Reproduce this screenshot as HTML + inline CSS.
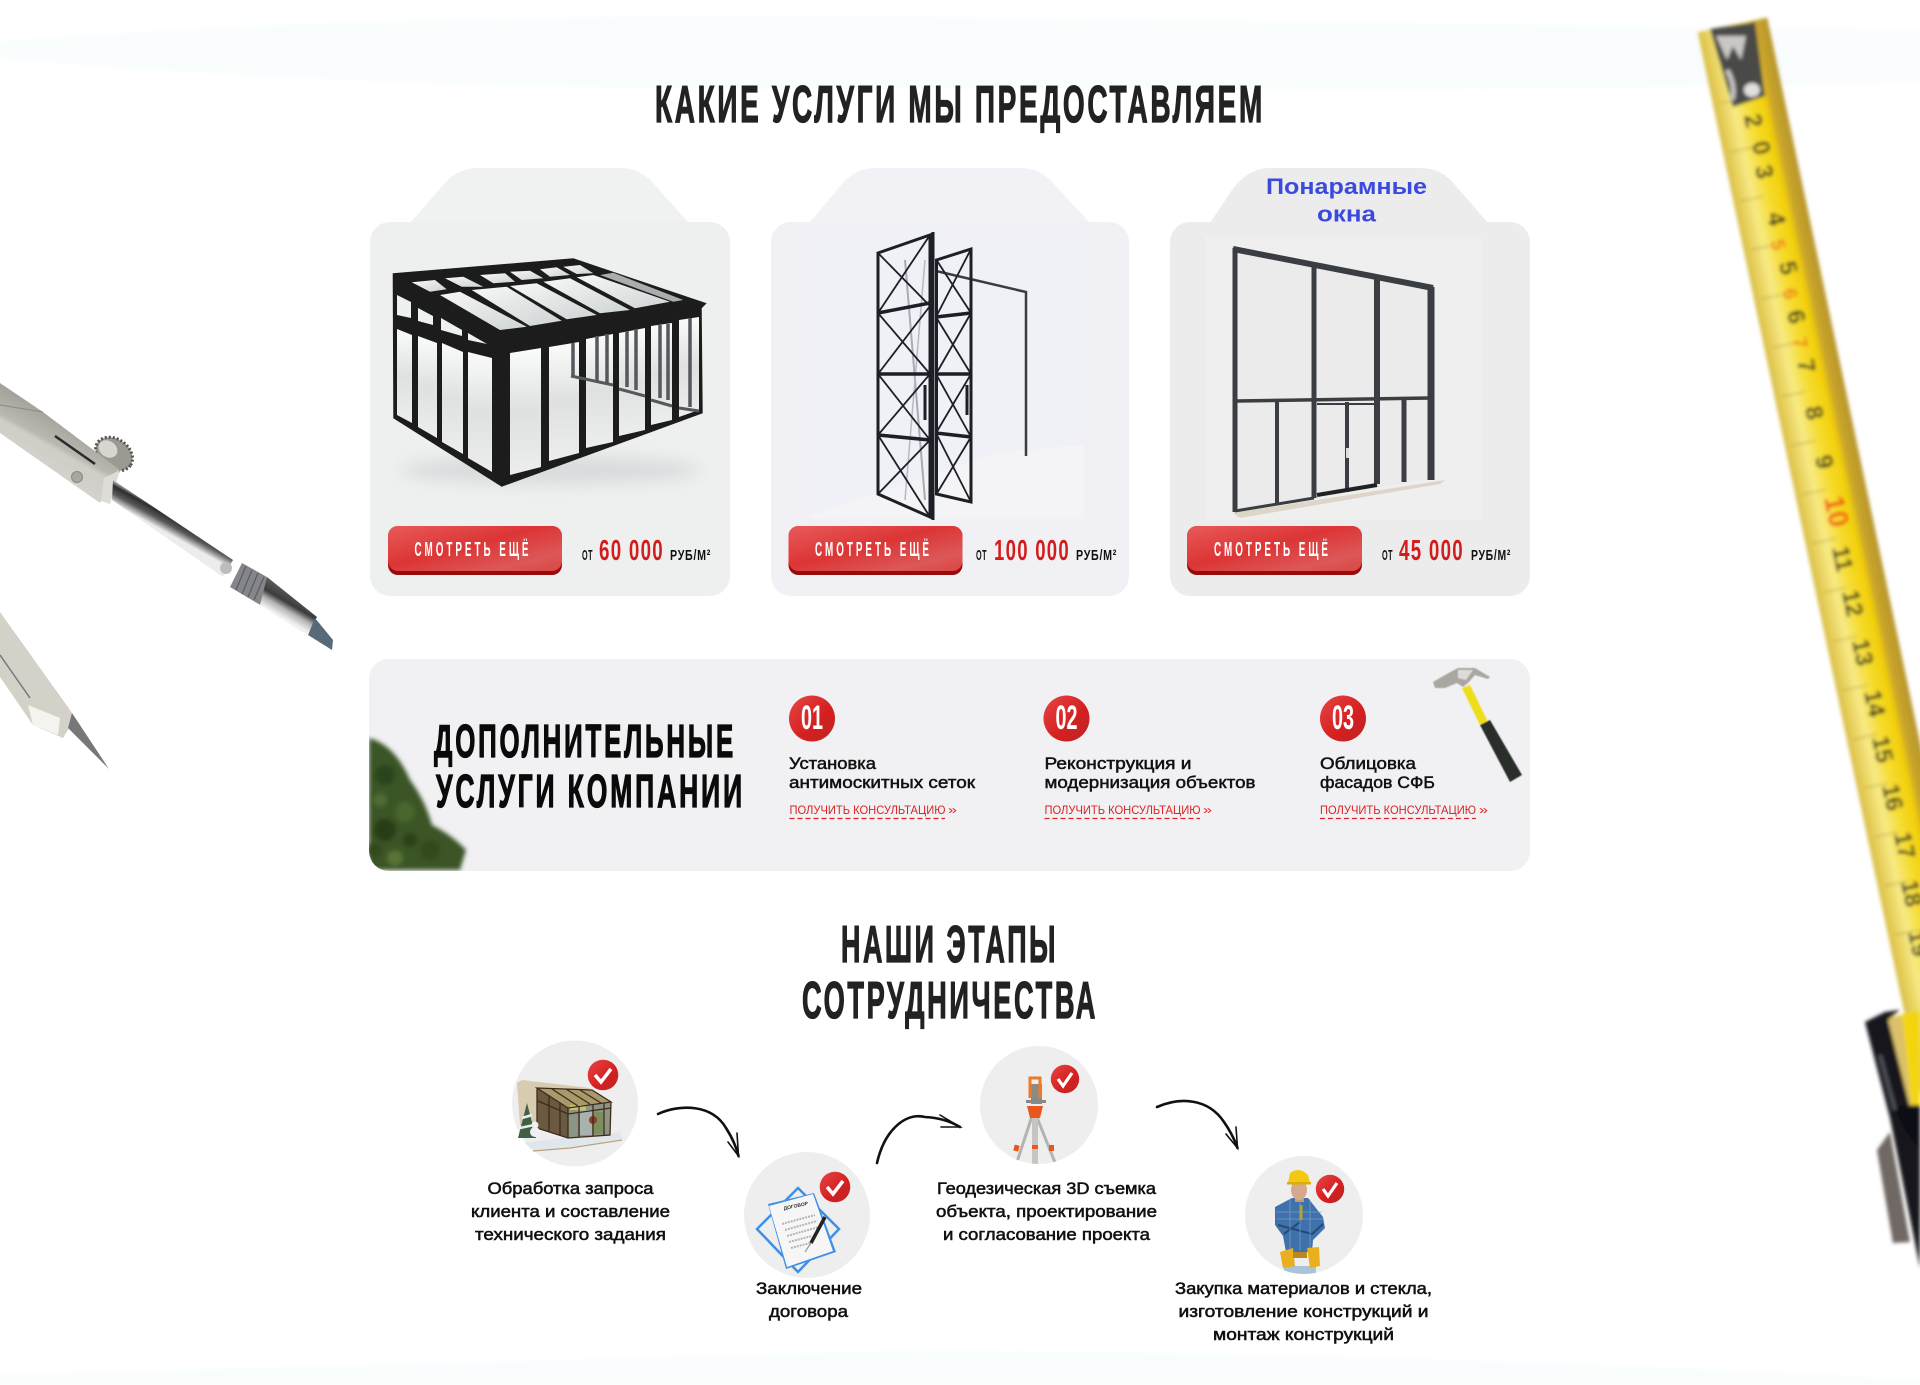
<!DOCTYPE html>
<html lang="ru"><head><meta charset="utf-8"><title>Услуги</title>
<style>
html,body{margin:0;padding:0;background:#fff;width:1920px;height:1385px;overflow:hidden}
svg{display:block;position:absolute;left:0;top:0}
text{font-family:"Liberation Sans","DejaVu Sans",sans-serif}
.h{font-weight:700;fill:#222;stroke:#222;stroke-width:1.3;letter-spacing:5px}
.k{font-weight:700;fill:#0a0a0a;stroke:#0a0a0a;stroke-width:1.3;letter-spacing:5px}
.m{font-weight:400;fill:#111;stroke:#111;stroke-width:.5;font-size:17px}
.s{font-weight:400;fill:#111;stroke:#111;stroke-width:.55;font-size:17px}
.b{font-weight:700;fill:#fff;font-size:20px;letter-spacing:6px}
.o{font-weight:700;fill:#111;font-size:15px;letter-spacing:1px}
.p{font-weight:700;fill:#d41c1c;font-size:29px;letter-spacing:2px}
.l{font-weight:400;fill:#d92525;font-size:12px}
.n{font-weight:700;fill:#fff;font-size:34px}
.t{font-weight:700;fill:#2e2c22;font-size:24px}
.r{font-weight:700;fill:#ef7b18;font-size:19px}
</style></head><body>
<svg width="1920" height="1385" viewBox="0 0 1920 1385" xmlns="http://www.w3.org/2000/svg">
<defs>
<filter id="bl1" x="-20%" y="-5%" width="140%" height="110%"><feGaussianBlur stdDeviation="1.9"/></filter>
<filter id="bl2" x="-20%" y="-20%" width="140%" height="140%"><feGaussianBlur stdDeviation="2.2"/></filter>
<filter id="bl5" x="-30%" y="-60%" width="160%" height="220%"><feGaussianBlur stdDeviation="8"/></filter>
<filter id="bl05" x="-20%" y="-20%" width="140%" height="140%"><feGaussianBlur stdDeviation=".6"/></filter>
<filter id="bl03" x="-5%" y="-5%" width="110%" height="110%"><feGaussianBlur stdDeviation=".35"/></filter>
<linearGradient id="tape" x1="0" x2="1" y1="0" y2="0">
<stop offset="0" stop-color="#d9bf4a"/><stop offset=".08" stop-color="#e4cb55"/><stop offset=".28" stop-color="#f7ea85"/><stop offset=".5" stop-color="#f6dc30"/><stop offset=".72" stop-color="#f2cf0a"/><stop offset=".82" stop-color="#c9a52b"/><stop offset="1" stop-color="#b8962d"/>
</linearGradient>
<linearGradient id="btn" x1="0" x2="1" y1="0" y2="1">
<stop offset="0" stop-color="#e85a5a"/><stop offset=".45" stop-color="#dc3535"/><stop offset=".8" stop-color="#dc5858"/><stop offset="1" stop-color="#dc4444"/>
</linearGradient>
<linearGradient id="red" x1="0" x2="1" y1="0" y2="1">
<stop offset="0" stop-color="#e84545"/><stop offset=".6" stop-color="#d41f1f"/><stop offset="1" stop-color="#bd2626"/>
</linearGradient>
<linearGradient id="metal" gradientUnits="userSpaceOnUse" x1="60" y1="420" x2="35" y2="465">
<stop offset="0" stop-color="#a5a39b"/><stop offset=".45" stop-color="#b9b7af"/><stop offset=".55" stop-color="#cfcdc6"/><stop offset="1" stop-color="#d4d2cc"/>
</linearGradient>
<linearGradient id="shaft" gradientUnits="userSpaceOnUse" x1="177" y1="515" x2="167" y2="533">
<stop offset="0" stop-color="#cfcfcf"/><stop offset=".25" stop-color="#2c2c2c"/><stop offset=".6" stop-color="#5a5a5a"/><stop offset="1" stop-color="#ececec"/>
</linearGradient>
<linearGradient id="cone" gradientUnits="userSpaceOnUse" x1="294" y1="592" x2="280" y2="616">
<stop offset="0" stop-color="#5e5e5e"/><stop offset=".45" stop-color="#3c3c3c"/><stop offset=".7" stop-color="#b5b5b5"/><stop offset="1" stop-color="#f2f2f2"/>
</linearGradient>
<linearGradient id="gw" x1="0" x2="0" y1="0" y2="1">
<stop offset="0" stop-color="#fafbfb"/><stop offset=".5" stop-color="#dfe1e1"/><stop offset="1" stop-color="#eceeee"/>
</linearGradient>
<linearGradient id="gr" x1="0" x2="1" y1="0" y2="1">
<stop offset="0" stop-color="#f7f8f8"/><stop offset="1" stop-color="#cfd3d3"/>
</linearGradient>
<clipPath id="panel"><rect x="369" y="659" width="1161" height="212" rx="20"/></clipPath>
<clipPath id="c3"><circle cx="1039" cy="1105" r="59"/></clipPath>
<clipPath id="c4"><circle cx="1304" cy="1215" r="59"/></clipPath>
</defs>

<!-- pale background bands -->
<path d="M0,42 Q400,10 1000,18 T1920,30 L1920,82 Q1500,92 900,88 Q400,92 0,58 Z" fill="#f9fdfd" filter="url(#bl2)"/>
<path d="M0,1385 L0,1375 Q500,1362 900,1351 Q1400,1352 1920,1380 L1920,1385 Z" fill="#f9fdfd" filter="url(#bl2)"/>

<!-- tape measure -->
<g filter="url(#bl1)">
<g transform="translate(1732,25) rotate(-11.9)">
<rect x="-35" y="0" width="71" height="1120" fill="url(#tape)"/>
<g stroke="#7d6a20" stroke-width="1" opacity=".55">
<path d="M-28,74H-4M-28,124H-4M-28,174H-4M-28,224H-4M-28,274H-4M-28,324H-4M-28,374H-4M-28,424H-4M-28,474H-4M-28,524H-4M-28,574H-4M-28,624H-4M-28,674H-4M-28,724H-4M-28,774H-4M-28,824H-4M-28,874H-4M-28,924H-4"/>
</g>
</g>
<polygon points="1710,29 1755,22 1765,96 1733,107" fill="#4a4847"/>
<path d="M1716,36 L1727,60 L1733,46 L1741,60 L1746,36 Z" fill="#c9c7c4"/>
<ellipse cx="1752" cy="90" rx="8" ry="7" fill="#e2e0de"/>
<path d="M1727,70 Q1736,86 1732,100" stroke="#c4c2bf" stroke-width="5" fill="none"/>
<text class="t" transform="translate(1744,116) rotate(78)">2</text>
<text class="t" transform="translate(1752,143) rotate(78)">0</text>
<text class="t" transform="translate(1755,167) rotate(78)">3</text>
<text class="t" transform="translate(1767,214) rotate(78)">4</text>
<text class="t" transform="translate(1779,263) rotate(78)">5</text>
<text class="t" transform="translate(1787,312) rotate(78)">6</text>
<text class="t" transform="translate(1797,361) rotate(78)">7</text>
<text class="t" transform="translate(1805,408) rotate(78)">8</text>
<text class="t" transform="translate(1815,457) rotate(78)">9</text>
<text class="t" transform="translate(1824,498) rotate(78)" style="fill:#f2540e;font-size:28px">10</text>
<text class="t" transform="translate(1832,548) rotate(78)">11</text>
<text class="t" transform="translate(1842,592) rotate(78)">12</text>
<text class="t" transform="translate(1852,641) rotate(78)">13</text>
<text class="t" transform="translate(1864,692) rotate(78)">14</text>
<text class="t" transform="translate(1872,738) rotate(78)">15</text>
<text class="t" transform="translate(1882,786) rotate(78)">16</text>
<text class="t" transform="translate(1894,834) rotate(78)">17</text>
<text class="t" transform="translate(1901,882) rotate(78)">18</text>
<text class="t" transform="translate(1908,932) rotate(78)">19</text>
<text class="r" transform="translate(1771,241) rotate(78)">5</text>
<text class="r" transform="translate(1783,290) rotate(78)">6</text>
<text class="r" transform="translate(1793,339) rotate(78)">7</text>
<!-- housing -->
<polygon points="1888,1018 1920,1010 1920,1110 1908,1110" fill="#f3d50f"/>
<polygon points="1888,1018 1902,1016 1912,1108 1904,1110" fill="#dcc06a"/>
<polygon points="1865,1022 1885,1012 1900,1010 1888,1020 1910,1108 1920,1105 1920,1268 1890,1118" fill="#15171a"/>
<polygon points="1893,1106 1920,1105 1920,1150 1905,1130" fill="#0e1012"/>
<polygon points="1877,1150 1890,1132 1910,1242 1893,1243" fill="#6f6763"/>
<path d="M1880,1055 L1895,1110" stroke="#4c4f54" stroke-width="4"/>
</g>

<!-- compass -->
<g filter="url(#bl03)">
<ellipse cx="114" cy="454" rx="20" ry="15" transform="rotate(35 114 454)" fill="#9b9992" stroke="#55534d" stroke-width="3" stroke-dasharray="2 2"/>
<ellipse cx="108" cy="449" rx="10" ry="8" transform="rotate(35 108 449)" fill="#d8d6d0"/>
<polygon points="0,383 43,412 120,470 100,503 0,433" fill="url(#metal)"/>
<path d="M0,405 L43,412" stroke="#8c8a83" stroke-width="1"/>
<path d="M55,436 L95,464" stroke="#2a2a2a" stroke-width="2.5"/>
<circle cx="77" cy="477" r="5.5" fill="#a9a7a0" stroke="#8a8882"/>
<polygon points="104,478 120,470 110,504 101,501" fill="#dddcd6"/>
<polygon points="113,480 233,560 223,577 112,500" fill="url(#shaft)"/>
<circle cx="226" cy="568" r="6" fill="#bdbdbd"/>
<polygon points="242,563 267,577 262,606 230,587" fill="#84868a"/>
<path d="M246,566 L236,590M252,570 L242,594M258,573 L248,597M264,577 L254,600" stroke="#5a5c60" stroke-width="1.2"/>
<polygon points="267,577 317,617 307,635 260,605" fill="url(#cone)"/>
<polygon points="315,618 333,640 332,650 308,635" fill="#566a78"/>
<polygon points="0,612 70,710 75,718 63,738 33,725 0,677" fill="#d3d1c8"/>
<path d="M0,655 L30,698" stroke="#777" stroke-width="1.5"/>
<polygon points="28,705 60,718 58,735 33,725" fill="#f4f3ee"/>
<polygon points="72,713 109,769 68,728" fill="#77777a"/>
</g>

<!-- main title -->
<text class="h" x="655" y="122" font-size="52" textLength="610" lengthAdjust="spacingAndGlyphs">КАКИЕ УСЛУГИ МЫ ПРЕДОСТАВЛЯЕМ</text>

<!-- card 1 -->
<path d="M410,223 L445,183 Q458,168 478,168 L620,168 Q640,168 653,183 L689,223 Z" fill="#f0f1f1"/>
<rect x="370" y="222" width="360" height="374" rx="20" fill="#eef0f0"/>
<ellipse cx="550" cy="470" rx="150" ry="14" fill="#d8dbdb" filter="url(#bl5)"/>
<g filter="url(#bl03)">
<polygon points="392.7,273.3 573.3,258.3 706.7,303.3 701.7,308.3 702.7,413.3 501.7,486.7 393.3,418.3" fill="#1c1c1c"/>
<g fill="#eef1f1">
<polygon points="397,295 411,302 411,318 397,315"/>
<polygon points="418,308 433,316 433,325 418,321"/>
<polygon points="441,318 462,330 462,336 441,330"/>
<polygon points="468,333 487,344 468,340"/>
</g>
<g fill="url(#gw)">
<polygon points="397,329 412,335 412,423 397,415"/>
<polygon points="418,336 437,343 437,438 418,427"/>
<polygon points="442,343 463,352 463,454 442,442"/>
<polygon points="468,352 492,358 492,472 468,458"/>
<polygon points="510,353 541,348 541,467 510,475"/>
<polygon points="549,347 579,342 579,453 549,461"/>
<polygon points="586,339 613,334 613,442 586,448"/>
<polygon points="619,333 645,328 645,430 619,436"/>
<polygon points="651,326 672,323 672,420 651,425"/>
<polygon points="679,320 699,317 699,410 679,417"/>
</g>
<g stroke="#55585b" fill="none">
<path d="M571,376 L613,385 M619,389 L645,396 M651,400 L672,406 M679,408 L699,411" stroke-width="3"/>
<path d="M573,339 V376" stroke-width="0"/>
<path d="M573,343 V376 M597,336 V381 M607,334 V384 M627,331 V387 M636,329 V390 M660,325 V398 M668,324 V400 M690,318 V407" stroke-width="3.5"/>
</g>
<g fill="url(#gr)">
<polygon points="411.7,282.3 435,280 446.7,289.3 430,291.7"/>
<polygon points="445,278.3 463.3,276.7 483.3,286.7 461.7,286.7"/>
<polygon points="480,275 505,273.3 515,281.7 493.3,283.3"/>
<polygon points="510,271.7 530,270.7 543.3,278.3 521.7,280"/>
<polygon points="540,269.3 556.7,267.3 570,275 550,276.7"/>
<polygon points="563.3,266.7 580,265 593.3,273.3 576.7,274"/>
<polygon points="440,295 460,291.7 526.7,326.7 500,330"/>
<polygon points="471.7,290 506.7,286.7 561.7,320.7 530,326"/>
<polygon points="510,286 536.7,283.3 596.7,315 566.7,319.3"/>
<polygon points="543.3,281.7 570,278.3 630,310 600,313.3"/>
<polygon points="576.7,277.3 593.3,275 670,301.7 635,308.3"/>
<polygon points="600,275 613.3,272.7 683.3,300 673.3,301.7" fill="#a9adae"/>
</g>
</g>
<rect x="388" y="526" width="174" height="49" rx="10" fill="#980b0b"/>
<rect x="388" y="526" width="174" height="45" rx="10" fill="url(#btn)"/>
<text class="b" x="414.5" y="556" textLength="117" lengthAdjust="spacingAndGlyphs">СМОТРЕТЬ ЕЩЁ</text>
<text class="o" x="582" y="560" textLength="11" lengthAdjust="spacingAndGlyphs">ОТ</text>
<text class="p" x="599" y="560" textLength="65" lengthAdjust="spacingAndGlyphs">60 000</text>
<text class="o" x="670" y="560" textLength="41" lengthAdjust="spacingAndGlyphs">РУБ/М²</text>

<!-- card 2 -->
<path d="M809,223 L843,183 Q856,168 876,168 L1020,168 Q1040,168 1053,183 L1090,223 Z" fill="#f2f2f6"/>
<rect x="771" y="222" width="358" height="374" rx="20" fill="#f1f1f5"/>
<rect x="811" y="230" width="273" height="289" fill="#f0f0f7"/>
<polygon points="811,515 1000,452 1084,445 1084,519 811,519" fill="#f4f4f7"/>
<g fill="none" stroke="#1d1f26">
<path d="M936,271 L1026,292 V456" stroke-width="2.5" stroke="#3a3c44"/>
<path d="M905,260 L925,500" stroke="#a9acb5" stroke-width="2"/>
<path d="M925,260 L905,500" stroke="#b6b9c2" stroke-width="1.5"/>
<path d="M878,253 L930,235 V517 L878,494 Z" stroke-width="3"/>
<path d="M936.5,260 L971,249 V502 L936.5,494 Z" stroke-width="3"/>
<path d="M878,313 L930,303 M878,374 H930 M878,435 L930,440" stroke-width="3.5"/>
<path d="M936,317 L971,313 M936,374 H971 M936,433 L971,437" stroke-width="3.5"/>
<path d="M878,253 L930,306 M930,235 L878,313 M878,313 L930,374 M930,306 L878,374 M878,374 L930,440 M930,374 L878,435 M878,435 L930,517 M930,440 L878,494" stroke-width="1.8"/>
<path d="M936.5,260 L971,313 M971,249 L936,317 M936,317 L971,374 M971,313 L936,374 M936,374 L971,437 M971,374 L936,433 M936,433 L971,502 M971,437 L936.5,494" stroke-width="1.8"/>
<path d="M933,232 V520" stroke-width="3"/>
<path d="M925,385 V420 M967,385 V415" stroke-width="3"/>
</g>
<rect x="788.5" y="526" width="174" height="49" rx="10" fill="#980b0b"/>
<rect x="788.5" y="526" width="174" height="45" rx="10" fill="url(#btn)"/>
<text class="b" x="815" y="556" textLength="117" lengthAdjust="spacingAndGlyphs">СМОТРЕТЬ ЕЩЁ</text>
<text class="o" x="976" y="560" textLength="11" lengthAdjust="spacingAndGlyphs">ОТ</text>
<text class="p" x="994" y="560" textLength="76" lengthAdjust="spacingAndGlyphs">100 000</text>
<text class="o" x="1076" y="560" textLength="41" lengthAdjust="spacingAndGlyphs">РУБ/М²</text>

<!-- card 3 -->
<path d="M1210,223 L1232,190 Q1248,168 1270,168 L1420,168 Q1442,168 1456,186 L1488,223 Z" fill="#ececec"/>
<rect x="1170" y="222" width="360" height="374" rx="20" fill="#ececec"/>
<text x="1266" y="194" font-size="22" font-weight="700" fill="#3a4ade" textLength="161" lengthAdjust="spacingAndGlyphs">Понарамные</text>
<text x="1317" y="221.5" font-size="22" font-weight="700" fill="#3a4ade" textLength="59" lengthAdjust="spacingAndGlyphs">окна</text>
<rect x="1205" y="237" width="277" height="283" fill="#efefef"/>
<polygon points="1233,248 1433,287 1433,478 1233,512" fill="#ebebeb"/>
<polygon points="1233,513 1445,480 1440,484 1240,518" fill="#ddd5c8"/>
<g fill="none" stroke="#3a3d41">
<path d="M1235,248 V512" stroke-width="5"/>
<path d="M1233,249 L1433,288" stroke-width="6"/>
<path d="M1431,287 V480" stroke-width="7"/>
<path d="M1314,265 V498" stroke-width="5"/>
<path d="M1377,279 V484" stroke-width="6"/>
<path d="M1237,401 L1430,398" stroke-width="3.5"/>
<path d="M1277,402 V503" stroke-width="4"/>
<path d="M1347,402 V492" stroke-width="4"/>
<path d="M1404,398 V482" stroke-width="5"/>
<path d="M1317,404 H1377" stroke-width="2"/>
<path d="M1235,511 L1314,498" stroke-width="3"/>
<path d="M1317,495 L1377,485" stroke-width="4" stroke="#1f2124"/>
</g>
<rect x="1346" y="448" width="3" height="10" fill="#ddd"/>
<rect x="1187" y="526" width="175" height="49" rx="10" fill="#980b0b"/>
<rect x="1187" y="526" width="175" height="45" rx="10" fill="url(#btn)"/>
<text class="b" x="1214" y="556" textLength="117" lengthAdjust="spacingAndGlyphs">СМОТРЕТЬ ЕЩЁ</text>
<text class="o" x="1382" y="560" textLength="11" lengthAdjust="spacingAndGlyphs">ОТ</text>
<text class="p" x="1399" y="560" textLength="65" lengthAdjust="spacingAndGlyphs">45 000</text>
<text class="o" x="1471" y="560" textLength="40" lengthAdjust="spacingAndGlyphs">РУБ/М²</text>

<!-- panel -->
<rect x="369" y="659" width="1161" height="212" rx="20" fill="#f1f0f3"/>
<g clip-path="url(#panel)">
<path d="M369,738 Q395,745 410,780 Q425,800 432,825 Q452,835 466,850 L460,870 L369,870 Z" fill="#3b5426" filter="url(#bl2)"/>
<g filter="url(#bl2)">
<circle cx="385" cy="775" r="10" fill="#2b441c"/><circle cx="405" cy="812" r="10" fill="#49662e"/>
<circle cx="385" cy="830" r="11" fill="#263c18"/><circle cx="430" cy="850" r="10" fill="#33491f"/>
<circle cx="395" cy="858" r="8" fill="#587336"/><circle cx="380" cy="800" r="7" fill="#4f6c34"/>
<circle cx="410" cy="840" r="7" fill="#2a4019"/><circle cx="375" cy="850" r="7" fill="#31491e"/>
</g>
</g>
<text class="k" x="434" y="757" font-size="46" textLength="302" lengthAdjust="spacingAndGlyphs">ДОПОЛНИТЕЛЬНЫЕ</text>
<text class="k" x="436" y="807" font-size="46" textLength="309" lengthAdjust="spacingAndGlyphs">УСЛУГИ КОМПАНИИ</text>

<circle cx="812" cy="718.5" r="23" fill="url(#red)"/>
<text class="n" x="801" y="729" textLength="22" lengthAdjust="spacingAndGlyphs">01</text>
<circle cx="1066.5" cy="718.5" r="23" fill="url(#red)"/>
<text class="n" x="1055.5" y="729" textLength="22" lengthAdjust="spacingAndGlyphs">02</text>
<circle cx="1343" cy="718.5" r="23" fill="url(#red)"/>
<text class="n" x="1332" y="729" textLength="22" lengthAdjust="spacingAndGlyphs">03</text>

<text class="m" x="789" y="769" textLength="87" lengthAdjust="spacingAndGlyphs">Установка</text>
<text class="m" x="789" y="788" textLength="186" lengthAdjust="spacingAndGlyphs">антимоскитных сеток</text>
<text class="l" x="789.5" y="814" textLength="156" lengthAdjust="spacingAndGlyphs">ПОЛУЧИТЬ КОНСУЛЬТАЦИЮ</text>
<text class="l" x="948" y="814" textLength="9" lengthAdjust="spacingAndGlyphs">»</text>
<path d="M789.5,818.5 H945" stroke="#d92525" stroke-width="1.2" stroke-dasharray="5 3"/>

<text class="m" x="1044.5" y="769" textLength="147" lengthAdjust="spacingAndGlyphs">Реконструкция и</text>
<text class="m" x="1044.5" y="788" textLength="211" lengthAdjust="spacingAndGlyphs">модернизация объектов</text>
<text class="l" x="1044.5" y="814" textLength="156" lengthAdjust="spacingAndGlyphs">ПОЛУЧИТЬ КОНСУЛЬТАЦИЮ</text>
<text class="l" x="1203" y="814" textLength="9" lengthAdjust="spacingAndGlyphs">»</text>
<path d="M1044.5,818.5 H1200" stroke="#d92525" stroke-width="1.2" stroke-dasharray="5 3"/>

<text class="m" x="1320" y="769" textLength="96" lengthAdjust="spacingAndGlyphs">Облицовка</text>
<text class="m" x="1320" y="788" textLength="115" lengthAdjust="spacingAndGlyphs">фасадов СФБ</text>
<text class="l" x="1320" y="814" textLength="156" lengthAdjust="spacingAndGlyphs">ПОЛУЧИТЬ КОНСУЛЬТАЦИЮ</text>
<text class="l" x="1479" y="814" textLength="9" lengthAdjust="spacingAndGlyphs">»</text>
<path d="M1320,818.5 H1476" stroke="#d92525" stroke-width="1.2" stroke-dasharray="5 3"/>

<!-- hammer -->
<g filter="url(#bl05)">
<polygon points="1462,688 1470,685 1488,722 1480,725" fill="#eedd1a"/>
<polygon points="1480,725 1490,720 1522,775 1510,782" fill="#2c2d2c"/>
<polygon points="1433,682 1445,675 1458,668 1475,668 1490,677 1488,679 1475,675 1468,683 1463,687 1457,683 1445,688 1435,688" fill="#aaa7a2"/>
<polygon points="1458,670 1473,670 1466,680 1458,678" fill="#dedcd8"/>
</g>

<!-- section title 2 -->
<text class="h" x="841" y="962" font-size="52" textLength="217" lengthAdjust="spacingAndGlyphs">НАШИ ЭТАПЫ</text>
<text class="h" x="802" y="1018" font-size="52" textLength="296" lengthAdjust="spacingAndGlyphs">СОТРУДНИЧЕСТВА</text>

<!-- step 1 -->
<circle cx="575" cy="1103.5" r="63" fill="#eee"/>
<g filter="url(#bl03)">
<polygon points="517,1083 522,1080 590,1088 545,1130 520,1125" fill="#d8ccb0"/>
<polygon points="525,1143 553,1139 610,1134 620,1132 622,1139 570,1147 533,1151" fill="#dfe6ec"/>
<path d="M533,1151 L570,1148 L622,1140" stroke="#b9a27c" stroke-width="1.2" fill="none"/>
<polygon points="537,1088 592,1090 611,1102 568,1108" fill="#a89a6a"/>
<polygon points="537,1088 568,1108 568,1138 537,1128" fill="#6a5a40"/>
<polygon points="568,1108 611,1102 610,1135 568,1138" fill="#8c9485"/>
<rect x="570" y="1105" width="16" height="5" fill="#c9c25a"/>
<rect x="580" y="1110" width="12" height="25" fill="#a9b3ae"/>
<rect x="594" y="1112" width="9" height="22" fill="#7b8e5c"/>
<circle cx="593" cy="1120" r="4" fill="#8e3a2a"/>
<path d="M537,1088 L592,1090 L611,1102 L568,1108 Z M537,1088 V1128 L568,1138 L610,1135 L611,1102 M568,1108 V1138 M549,1095 V1132 M560,1103 V1135 M579,1106 V1137 M593,1104 V1136 M604,1103 V1135 M538,1101 L568,1114 L611,1108 M552,1089 L578,1106 M566,1089 L590,1104 M580,1090 L601,1103" fill="none" stroke="#3f2a1c" stroke-width="1.3"/>
<polygon points="527,1103 536,1138 518,1138" fill="#3f5f45"/>
<path d="M522,1118 L532,1115 M520,1128 L534,1125" stroke="#e8eeee" stroke-width="2.5"/>
<circle cx="535" cy="1132" r="5" fill="#eef1f3"/><circle cx="535" cy="1125" r="3.5" fill="#eef1f3"/>
</g>
<circle cx="603" cy="1075" r="15.3" fill="url(#red)"/>
<path d="M595,1075 L601,1082 L611,1069" fill="none" stroke="#fff" stroke-width="3.5"/>
<text class="s" x="487.5" y="1194" textLength="166" lengthAdjust="spacingAndGlyphs">Обработка запроса</text>
<text class="s" x="471" y="1217" textLength="199" lengthAdjust="spacingAndGlyphs">клиента и составление</text>
<text class="s" x="475" y="1240" textLength="191" lengthAdjust="spacingAndGlyphs">технического задания</text>

<!-- step 2 -->
<circle cx="807" cy="1215" r="63" fill="#eee"/>
<polygon points="798,1188 839,1229 798,1272 757,1229" fill="none" stroke="#3f90e4" stroke-width="2.5"/>
<polygon points="768,1204 814,1193 836,1252 786,1269" fill="#3f90e4"/>
<polygon points="769,1206 813,1194 833,1251 787,1267" fill="#f6f6f6"/>
<path d="M782,1224 L815,1215M785,1230 L817,1221M787,1236 L819,1227M789,1242 L812,1236M791,1248 L810,1243" stroke="#b5b5b5" stroke-width="2" stroke-dasharray="2 1"/>
<text x="784" y="1210" font-size="5" font-weight="700" fill="#333" transform="rotate(-12 784 1210)">ДОГОВОР</text>
<path d="M825,1217 L811,1243" stroke="#222" stroke-width="3.5"/>
<path d="M811,1243 L805,1252" stroke="#999" stroke-width="1.2"/>
<circle cx="835" cy="1187" r="15.3" fill="url(#red)"/>
<path d="M827,1187 L833,1194 L843,1181" fill="none" stroke="#fff" stroke-width="3.5"/>
<text class="s" x="756" y="1294" textLength="106" lengthAdjust="spacingAndGlyphs">Заключение</text>
<text class="s" x="769" y="1317" textLength="79" lengthAdjust="spacingAndGlyphs">договора</text>

<!-- arrows -->
<g fill="none" stroke="#111" stroke-linecap="round">
<path d="M658,1114 C680,1104 712,1104 726,1128 Q735,1142 738.5,1156" stroke-width="2.6"/>
<path d="M728,1142 L738.5,1156 L737,1133" stroke-width="1.6"/>
<path d="M877,1163 C884,1132 904,1112 925,1117 Q945,1118 960,1127" stroke-width="2.6"/>
<path d="M940,1115 L960,1127 L941,1127" stroke-width="1.6"/>
<path d="M1157,1107 C1180,1097 1208,1098 1224,1122 Q1233,1135 1237.5,1148" stroke-width="2.6"/>
<path d="M1226,1134 L1237.5,1148 L1236,1127" stroke-width="1.6"/>
</g>

<!-- step 3 -->
<circle cx="1039" cy="1105" r="59" fill="#eee"/>
<g clip-path="url(#c3)">
<path d="M1034,1110 L1016,1165M1034,1110 L1056,1165" stroke="#b5b3ae" stroke-width="3"/>
<rect x="1032" y="1112" width="6" height="55" fill="#c7c5c0"/>
<rect x="1031" y="1084" width="11" height="20" fill="#8c8a84"/>
<path d="M1030,1098 V1078 H1040 V1098" fill="none" stroke="#ee7a28" stroke-width="3"/>
<rect x="1026" y="1100" width="20" height="3" fill="#888"/>
<polygon points="1027,1106 1043,1106 1040,1118 1030,1118" fill="#e8571e"/>
<rect x="1014" y="1145" width="5" height="6" fill="#e8571e" transform="rotate(15 1016 1148)"/>
<rect x="1049" y="1145" width="5" height="6" fill="#e8571e"/>
<rect x="1032" y="1145" width="6" height="4" fill="#e8571e"/>
</g>
<circle cx="1065" cy="1079" r="14.2" fill="url(#red)"/>
<path d="M1058,1079 L1063,1086 L1072,1073" fill="none" stroke="#fff" stroke-width="3.2"/>
<text class="s" x="937" y="1194" textLength="219" lengthAdjust="spacingAndGlyphs">Геодезическая 3D съемка</text>
<text class="s" x="936" y="1217" textLength="221" lengthAdjust="spacingAndGlyphs">объекта, проектирование</text>
<text class="s" x="943" y="1240" textLength="207" lengthAdjust="spacingAndGlyphs">и согласование проекта</text>

<!-- step 4 -->
<circle cx="1304" cy="1215" r="59" fill="#eee"/>
<g clip-path="url(#c4)">
<polygon points="1284,1266 1316,1266 1316,1276 1284,1276" fill="#a9c4d6"/>
<polygon points="1275,1207 1292,1198 1308,1198 1323,1217 1325,1228 1313,1240 1312,1252 1286,1252 1283,1236 1275,1225" fill="#3f72ab"/>
<path d="M1278,1225 L1312,1234 L1323,1224 M1284,1234 L1300,1222" stroke="#234a78" stroke-width="2" fill="none"/>
<path d="M1276,1212 H1322 M1277,1219 H1323 M1290,1199 V1250 M1300,1199 V1250 M1310,1199 V1250" stroke="#86a8cf" stroke-width="1" opacity=".6"/>
<polygon points="1280,1252 1293,1248 1295,1266 1283,1268" fill="#e9af1e"/>
<polygon points="1307,1248 1319,1247 1320,1266 1310,1268" fill="#e9af1e"/>
<rect x="1293" y="1252" width="14" height="6" fill="#b88a1c"/>
<rect x="1295" y="1192" width="9" height="10" fill="#c9987a"/>
<ellipse cx="1299" cy="1190" rx="8" ry="10" fill="#d7a98c"/>
<path d="M1288,1183 L1290,1173 Q1299,1166 1308,1175 L1310,1183 Z" fill="#f2c90f"/>
<rect x="1287" y="1182" width="24" height="2.5" fill="#d9ad0a"/>
<path d="M1301,1205 L1301,1220" stroke="#b1a437" stroke-width="3"/>
</g>
<circle cx="1330" cy="1189" r="14.2" fill="url(#red)"/>
<path d="M1323,1189 L1328,1196 L1337,1183" fill="none" stroke="#fff" stroke-width="3.2"/>
<text class="s" x="1175" y="1294" textLength="257" lengthAdjust="spacingAndGlyphs">Закупка материалов и стекла,</text>
<text class="s" x="1178.5" y="1317" textLength="250" lengthAdjust="spacingAndGlyphs">изготовление конструкций и</text>
<text class="s" x="1213" y="1340" textLength="181" lengthAdjust="spacingAndGlyphs">монтаж конструкций</text>
</svg>
</body></html>
